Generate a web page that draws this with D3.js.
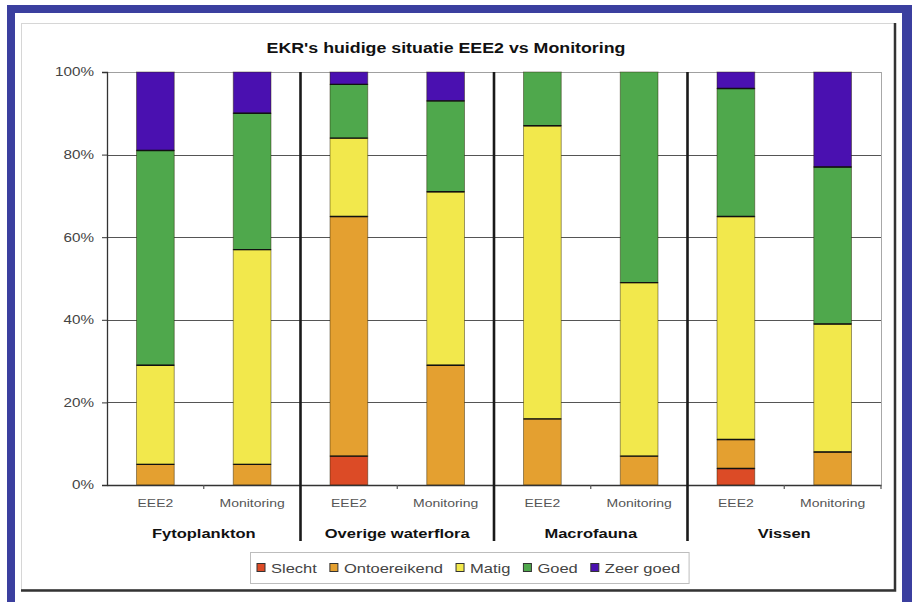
<!DOCTYPE html>
<html>
<head>
<meta charset="utf-8">
<script src="https://cdn.jsdelivr.net/npm/d3@7"></script>
<style>
  html, body { margin: 0; padding: 0; background: #ffffff; }
  svg { display: block; }
  text { font-family: Arial, "Liberation Sans", sans-serif; }
</style>
</head>
<body>
<svg id="chart" width="912" height="602"></svg>
<script>
// Ecological quality ratio (EKR) per quality element: EEE2 model vs monitoring
const groups = ["Fytoplankton", "Overige waterflora", "Macrofauna", "Vissen"];
const sources = ["EEE2", "Monitoring"];
const classes = ["Slecht", "Ontoereikend", "Matig", "Goed", "Zeer goed"];
const classColors = ["#dc4b26", "#e4a030", "#f2e84c", "#4fa84c", "#4a10b0"];

// Percentages per bar, order: group x source
const slecht       = [0, 0, 7, 0, 0, 0, 4, 0];
const ontoereikend = [5, 5, 58, 29, 16, 7, 7, 8];
const matig        = [24, 52, 19, 42, 71, 42, 54, 31];
const goed         = [52, 33, 13, 22, 13, 51, 31, 38];
const zeerGoed     = [19, 10, 3, 7, 0, 0, 4, 23];

const yTicks = [0, 20, 40, 60, 80, 100];
const title = "EKR's huidige situatie EEE2 vs Monitoring";

const seriesValues = [slecht, ontoereikend, matig, goed, zeerGoed];
const bars = [];
groups.forEach((g, gi) => sources.forEach((s, si) => bars.push({ key: g + "|" + s, group: g, source: s, idx: gi * sources.length + si })));

const svg = d3.select("#chart");
const TEXT_STRETCH = 1.27;
// Widen glyphs horizontally; returns nothing, the new width is in textLength
function stretch(sel) {
  sel.each(function () {
    const w = this.getComputedTextLength();
    this.setAttribute("textLength", w * TEXT_STRETCH);
    this.setAttribute("lengthAdjust", "spacingAndGlyphs");
  });
}

// Blue frame
const frame = "#3b3f9f";
svg.append("rect").attr("x", 7).attr("y", 5).attr("width", 8).attr("height", 597).attr("fill", frame);
svg.append("rect").attr("x", 7).attr("y", 5).attr("width", 905).attr("height", 8).attr("fill", frame);
svg.append("rect").attr("x", 902).attr("y", 5).attr("width", 10).attr("height", 597).attr("fill", frame);

// Chart area
svg.append("rect").attr("x", 21.5).attr("y", 23.5).attr("width", 873).attr("height", 566)
  .attr("fill", "#ffffff").attr("stroke", "#d6d6d6");
svg.append("path").attr("d", "M895,23 V590.5 H21").attr("fill", "none").attr("stroke", "#333").attr("stroke-width", 2.5);

const plot = { left: 107, right: 881, top: 72, bottom: 485 };

const x = d3.scaleBand().domain(bars.map(d => d.key)).range([plot.left, plot.right]).padding(0);
const barW = x.bandwidth() * 0.39;
const y = d3.scaleLinear().domain([0, 100]).range([plot.bottom, plot.top]);

// Gridlines
svg.append("g").selectAll("line").data(yTicks.filter(t => t > 0)).join("line")
  .attr("x1", plot.left).attr("x2", plot.right)
  .attr("y1", d => Math.round(y(d)) + 0.5).attr("y2", d => Math.round(y(d)) + 0.5)
  .attr("stroke", d => d === 100 ? "#a0a0a0" : "#555").attr("stroke-width", 1.2);
svg.append("line").attr("x1", plot.right + 0.5).attr("x2", plot.right + 0.5)
  .attr("y1", plot.top).attr("y2", plot.bottom).attr("stroke", "#a8a8a8");

// Stacked bars
const stackData = bars.map(b => {
  let acc = 0;
  return classes.map((c, ci) => {
    const v = seriesValues[ci][b.idx];
    const seg = { bar: b, cls: ci, y0: acc, y1: acc + v };
    acc += v;
    return seg;
  }).filter(s => s.y1 > s.y0);
});
const segs = stackData.flat();

svg.append("g").selectAll("rect").data(segs).join("rect")
  .attr("x", d => x(d.bar.key) + (x.bandwidth() - barW) / 2)
  .attr("width", barW)
  .attr("y", d => y(d.y1))
  .attr("height", d => y(d.y0) - y(d.y1))
  .attr("fill", d => classColors[d.cls])
  .attr("stroke", "rgba(40,30,0,0.45)").attr("stroke-width", 1);

// Segment boundaries
svg.append("g").selectAll("line").data(segs.filter(s => s.y1 < 100)).join("line")
  .attr("x1", d => x(d.bar.key) + (x.bandwidth() - barW) / 2)
  .attr("x2", d => x(d.bar.key) + (x.bandwidth() + barW) / 2)
  .attr("y1", d => y(d.y1)).attr("y2", d => y(d.y1))
  .attr("stroke", "#111").attr("stroke-width", 1.4);

// Y axis
const yAxis = svg.append("g").attr("transform", `translate(${plot.left},0)`)
  .call(d3.axisLeft(y).tickValues(yTicks).tickFormat(d => d + "%").tickSize(5).tickPadding(8));
yAxis.select(".domain").attr("stroke", "#333").attr("stroke-width", 1.3);
yAxis.selectAll(".tick line").attr("stroke", "#333");
yAxis.selectAll(".tick text").attr("font-size", 12).attr("fill", "#444")
  .attr("font-family", "Arial, 'Liberation Sans', sans-serif").call(stretch);

// X axis
const xAxis = svg.append("g").attr("transform", `translate(0,${plot.bottom})`)
  .call(d3.axisBottom(x).tickFormat(k => k.split("|")[1]).tickSize(0).tickPadding(14));
xAxis.select(".domain").attr("stroke", "#333").attr("stroke-width", 1.3);
xAxis.selectAll(".tick text").attr("font-size", 11).attr("fill", "#555")
  .attr("font-family", "Arial, 'Liberation Sans', sans-serif").call(stretch);

// Small ticks between bars, long dividers between groups
const boundaries = bars.slice(1).map(b => ({ pos: x(b.key), divider: b.idx % sources.length === 0 }));
boundaries.push({ pos: plot.right, divider: false });
svg.append("g").selectAll("line").data(boundaries).join("line")
  .attr("x1", d => d.pos).attr("x2", d => d.pos)
  .attr("y1", d => d.divider ? plot.top : plot.bottom)
  .attr("y2", d => d.divider ? 541 : plot.bottom + 4)
  .attr("stroke", d => d.divider ? "#1a1a1a" : "#555")
  .attr("stroke-width", d => d.divider ? 2.6 : 1.2);

// Group labels
const groupCenter = g => {
  const ks = bars.filter(b => b.group === g).map(b => x(b.key));
  return (d3.min(ks) + d3.max(ks) + x.bandwidth()) / 2;
};
svg.append("g").selectAll("text").data(groups).join("text")
  .attr("x", groupCenter).attr("y", 538)
  .attr("text-anchor", "middle").attr("font-size", 13).attr("font-weight", "bold").attr("fill", "#111")
  .text(d => d).call(stretch);

// Title
svg.append("text").attr("x", 446).attr("y", 53).attr("text-anchor", "middle")
  .attr("font-size", 14).attr("font-weight", "bold").attr("fill", "#111")
  .text(title).call(stretch);

// Legend
const legend = svg.append("g");
const legBox = legend.append("rect").attr("y", 552.5).attr("height", 31)
  .attr("fill", "#fff").attr("stroke", "#bdbdbd");
let lx = 257;
classes.forEach((c, i) => {
  legend.append("rect").attr("x", lx).attr("y", 563.5).attr("width", 8).attr("height", 8)
    .attr("fill", classColors[i]).attr("stroke", "#333").attr("stroke-width", 1);
  const t = legend.append("text").attr("x", lx + 14).attr("y", 573)
    .attr("font-size", 13).attr("fill", "#444").text(c);
  const w = t.node().getComputedTextLength();
  t.call(stretch);
  lx += 14 + w * TEXT_STRETCH + 13;
});
legBox.attr("x", 250.5).attr("width", lx - 13 + 9 - 250.5);
</script>
</body>
</html>
